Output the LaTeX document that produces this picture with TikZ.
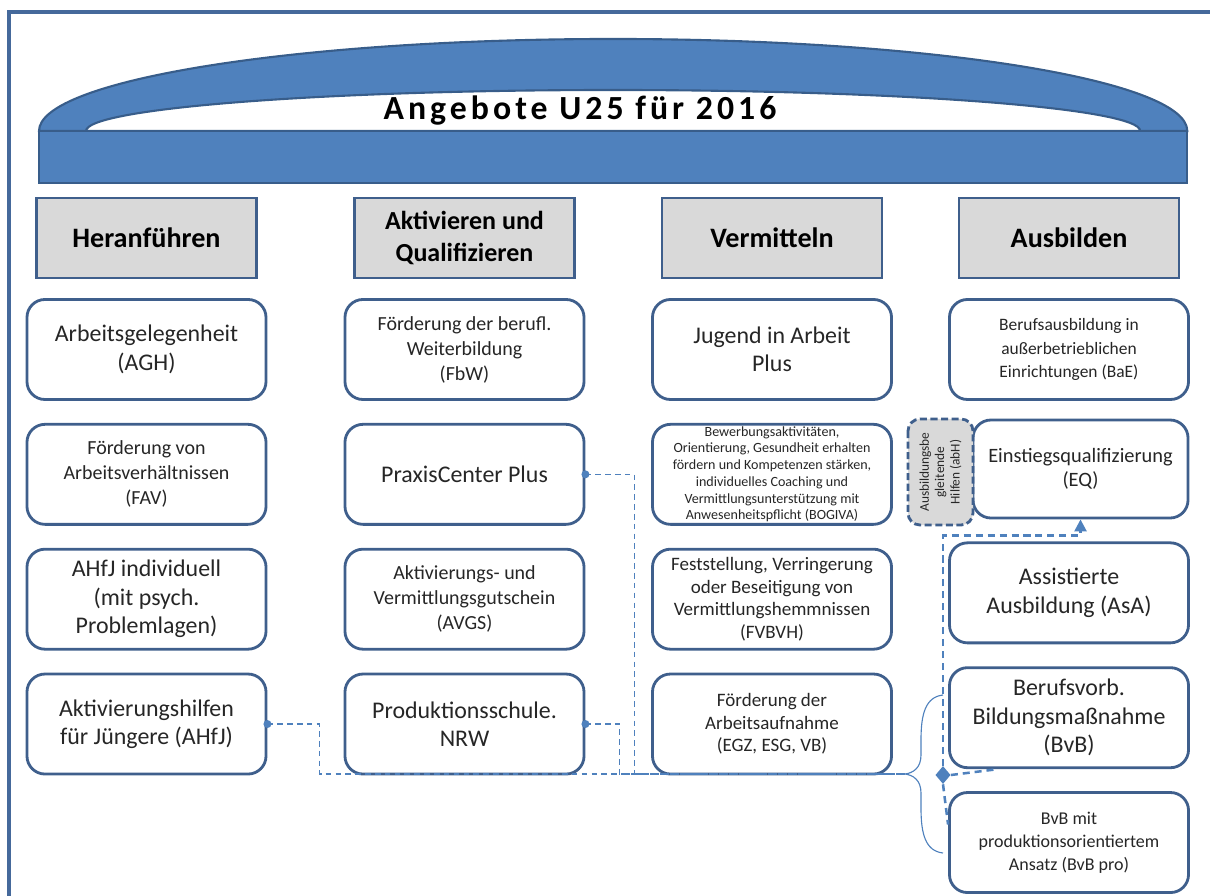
\documentclass[tikz,border=0pt]{standalone}
\usepackage{fontspec}
\setmainfont{Carlito}
\newfontfamily\titlefont[LetterSpace=12]{Carlito}
\usetikzlibrary{arrows.meta, positioning, shapes.geometric}
\definecolor{archblue}{HTML}{4F81BD}
\definecolor{archline}{HTML}{385D8A}
\definecolor{frameblue}{HTML}{45699B}
\definecolor{boxline}{HTML}{3F5F8C}
\definecolor{headgray}{HTML}{D9D9D9}
\definecolor{txt}{HTML}{262626}

\begin{document}
\begin{tikzpicture}[x=0.025cm, y=-0.025cm,
    head/.style={draw=boxline, line width=1.5pt, fill=headgray,
                 minimum width=5.5cm, minimum height=2cm, align=center,
                 font=\fontsize{20}{24}\selectfont\bfseries, text=black},
    box/.style={draw=boxline, line width=2pt, fill=white, rounded corners=0.45cm,
                minimum width=5.975cm, minimum height=2.5cm, align=center,
                inner sep=1pt, text=txt},
    lg/.style={font=\fontsize{17}{20.3}\selectfont},
    md/.style={font=\fontsize{14.2}{17.8}\selectfont},
    sm/.style={font=\fontsize{13.5}{16}\selectfont},
    xs/.style={font=\fontsize{10}{11.9}\selectfont},
    link/.style={draw=archblue, line width=0.8pt, dash pattern=on 4pt off 3pt},
    hublink/.style={draw=archblue, line width=1.8pt, dash pattern=on 5pt off 3.5pt},
    node distance=0.55cm
  ]
  \useasboundingbox (0,0) rectangle (1210,895);

  % frame, arch and band
  \draw[frameblue, line width=2.2pt] (9,920) -- (9,12) -- (1230,12);
  \filldraw[fill=archblue, draw=archline, line width=1.5pt, even odd rule]
    (39,131) arc[start angle=180, end angle=0, x radius=14.35cm, y radius=2.3cm] -- cycle
    (86,131) arc[start angle=180, end angle=0, x radius=13.175cm, y radius=1.025cm] -- cycle;
  \node[draw=archline, fill=archblue, line width=1.5pt, minimum width=28.7cm,
        minimum height=1.3cm, inner sep=0pt] (band) at (613,157) {};
  \node[font=\titlefont\bfseries\fontsize{24}{28}\selectfont, text=black] (title)
    at (580,111) {Angebote U25 für 2016};

  % headers
  \node[head] (hHer) at (146.5,238) {Heranführen};
  \node[head, font=\fontsize{18.5}{23}\selectfont\bfseries] (hAkt) at (464.5,238) {Aktivieren und\\Qualifizieren};
  \node[head] (hVer) at (772,238) {Vermitteln};
  \node[head] (hAus) at (1069,238) {Ausbilden};

  % column 1
  \node[box, lg, below=0.475cm of hHer] (agh) {Arbeitsgelegenheit\\(AGH)};
  \node[box, md, below=of agh] (fav) {Förderung von\\Arbeitsverhältnissen\\(FAV)};
  \node[box, lg, below=of fav] (ahfji) {AHfJ individuell\\(mit psych.\\Problemlagen)};
  \node[box, lg, below=of ahfji] (ahfj) {Aktivierungshilfen\\für Jüngere (AHfJ)};

  % column 2
  \node[box, md, below=0.475cm of hAkt] (fbw) {Förderung der berufl.\\Weiterbildung\\(FbW)};
  \node[box, lg, below=of fbw] (praxis) {PraxisCenter Plus};
  \node[box, md, below=of praxis] (avgs) {Aktivierungs- und\\Vermittlungsgutschein\\(AVGS)};
  \node[box, lg, below=of avgs] (prod) {Produktionsschule.\\NRW};

  % column 3
  \node[box, lg, below=0.475cm of hVer] (jia) {Jugend in Arbeit\\Plus};
  \node[box, xs, below=of jia] (bogiva) {Bewerbungsaktivitäten,\\Orientierung, Gesundheit erhalten\\fördern und Kompetenzen stärken,\\individuelles Coaching und\\Vermittlungsunterstützung mit\\Anwesenheitspflicht (BOGIVA)};
  \node[box, sm, below=of bogiva] (fvbvh) {Feststellung, Verringerung\\oder Beseitigung von\\Vermittlungshemmnissen\\(FVBVH)};
  \node[box, sm, below=of fvbvh] (egz) {Förderung der\\Arbeitsaufnahme\\(EGZ, ESG, VB)};

  % column 4
  \node[box, font=\fontsize{12.4}{16.7}\selectfont, below=0.475cm of hAus] (bae) {Berufsausbildung in\\außerbetrieblichen\\Einrichtungen (BaE)};
  \node[box, font=\fontsize{14.5}{17}\selectfont, minimum width=5.375cm, minimum height=2.45cm] (eq) at (1080.5,469) {Einstiegsqualifizierung\\(EQ)};
  \node[draw=boxline, fill=headgray, line width=2pt, dash pattern=on 5pt off 2.5pt,
        rounded corners=0.3cm, rotate=90, minimum width=2.65cm, minimum height=1.625cm,
        align=center, inner sep=1pt, text=txt, font=\fontsize{9.5}{11}\selectfont] (abh)
    at (940.5,472) {Ausbildungsbe\\gleitende\\Hilfen (abH)};
  \node[box, lg, anchor=north] (asa) at ([yshift=-0.55cm]bae.south |- eq.south) {Assistierte\\Ausbildung (AsA)};
  \node[box, lg, below=of asa] (bvb) {Berufsvorb.\\Bildungsmaßnahme\\(BvB)};
  \node[box, font=\fontsize{12.8}{16.4}\selectfont, below=of bvb] (bvbpro) {BvB mit\\produktionsorientiertem\\Ansatz (BvB pro)};

  % links to the brace
  \coordinate (tip) at (905,774);
  \draw[link] (ahfj.east) -- ++(52,0) |- (tip);
  \draw[link] (prod.east) -- ++(34,0) |- (tip);
  \draw[link] (praxis.east) -- ++(49,0) |- (tip);
  \fill[archblue] (ahfj.east) circle (0.1cm);
  \fill[archblue] (prod.east) circle (0.1cm);
  \fill[archblue] (praxis.east) circle (0.1cm);

  % brace
  \draw[archblue, line width=0.8pt] (943,695) .. controls (925,697) and (921,715) .. (921,740)
    -- (921,755) .. controls (921,768) and (913,773) .. (tip)
    .. controls (913,775) and (921,780) .. (921,793) -- (921,808)
    .. controls (921,833) and (925,851) .. (943,853);

  % hub
  \node[diamond, fill=archblue, inner sep=0pt, minimum width=0.38cm, minimum height=0.45cm] (hub) at (943,775) {};
  \draw[hublink, -{Triangle[length=0.3cm, width=0.3cm]}] (hub.north) |- ([yshift=-0.4cm]eq.south) -- (eq.south);
  \draw[hublink] (hub.east) -- ([xshift=1.25cm]bvb.south west);
  \draw[hublink] (hub.south) -- ([yshift=0.45cm]bvbpro.west);
\end{tikzpicture}
\end{document}
